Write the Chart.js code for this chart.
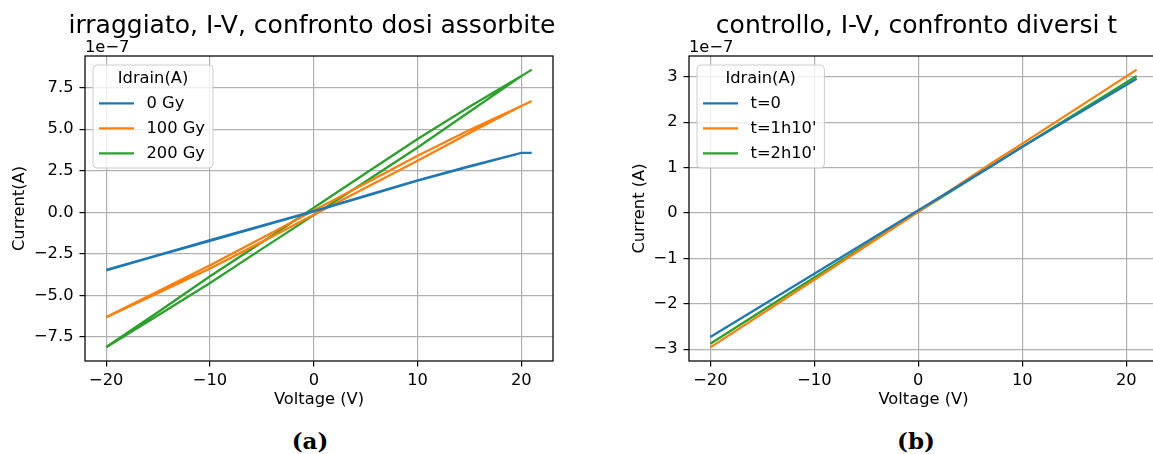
<!DOCTYPE html>
<html>
<head>
<meta charset="utf-8">
<script src="https://cdn.jsdelivr.net/npm/chart.js@4.4.0/dist/chart.umd.min.js"></script>
<style>
  html, body { margin: 0; padding: 0; background: #fff; width: 1153px; height: 454px; overflow: hidden; }
  canvas { position: absolute; top: 0; }
  #chartA { left: 0; }
  #chartB { left: 600px; }
  .cap { position: absolute; top: 427px; line-height: 1; font: bold 23px "DejaVu Serif", serif; transform: translateX(-50%); }
</style>
</head>
<body>
<canvas id="chartA" width="576" height="415"></canvas>
<canvas id="chartB" width="600" height="415"></canvas>
<div class="cap" style="left:310px">(a)</div>
<div class="cap" style="left:916px">(b)</div>

<script>
/* =========================================================
   Data — currents in units of 1e-7 A
   ========================================================= */

// (a) irradiated device, sweep -20 -> 21 -> -20 V
const sweepA = [-20, -15, -10, -5, 0, 5, 10, 15, 20, 21, 20, 15, 10, 5, 0, -5, -10, -15, -20];
const dose0   = [-3.49, -2.60, -1.72, -0.83, 0.05, 0.98, 1.90, 2.75, 3.58, 3.58, 3.58, 2.78, 1.92, 1.00, 0.08, -0.80, -1.68, -2.58, -3.46];
const dose100 = [-6.32, -4.85, -3.38, -1.78, -0.14, 1.48, 3.10, 4.78, 6.40, 6.70, 6.40, 4.95, 3.40, 1.75, 0.11, -1.55, -3.18, -4.75, -6.30];
const dose200 = [-8.12, -6.20, -4.25, -2.20, -0.17, 1.85, 3.90, 6.05, 8.20, 8.59, 8.20, 6.35, 4.41, 2.35, 0.28, -1.80, -3.85, -6.00, -8.10];
const labelsA = ['0 Gy', '100 Gy', '200 Gy'];

// (b) control device, different times
const sweepB = [-20, -10, 0, 7, 10, 21];
const time0    = [-2.73, -1.34, 0.06, 1.03, 1.46, 2.96];
const time1h10 = [-2.96, -1.47, 0.03, 1.09, 1.53, 3.16];
const time2h10 = [-2.88, -1.42, 0.03, 1.03, 1.46, 3.02];
const labelsB = ['t=0', "t=1h10'", "t=2h10'"];

// ticks
const voltTicks = [-20, -10, 0, 10, 20];
const curTicksA = [-7.5, -5, -2.5, 0, 2.5, 5, 7.5];
const curTicksB = [-3, -2, -1, 0, 1, 2, 3];

const COLORS = ['#1f77b4', '#ff7f0e', '#2ca02c'];
const FONT = "'DejaVu Sans', sans-serif";
const FS = 16.3;

const minus = s => String(s).replace('-', '\u2212');
const pts = (xs, ys) => xs.map((x, i) => ({ x, y: ys[i] }));

/* =========================================================
   Plugin: matplotlib-ish title, frame, offset text, legend box
   ========================================================= */
const mplDecor = {
  id: 'mplDecor',
  afterDatasetsDraw(chart, args, opts) {
    const ctx = chart.ctx;
    const ca = chart.chartArea;
    ctx.save();

    // title (may be wider than the axes, so no max width)
    ctx.font = `25px ${FONT}`;
    ctx.fillStyle = '#000';
    ctx.textAlign = 'center';
    ctx.textBaseline = 'alphabetic';
    ctx.fillText(opts.title, (ca.left + ca.right) / 2 - 7, 33);

    // frame (all 4 spines)
    ctx.strokeStyle = '#000';
    ctx.lineWidth = 1.25;
    ctx.strokeRect(ca.left, ca.top, ca.right - ca.left, ca.bottom - ca.top);

    // offset text
    ctx.font = `${FS}px ${FONT}`;
    ctx.textAlign = 'left';
    ctx.fillText('1e\u22127', ca.left, ca.top - 4);

    // legend
    const ds = chart.data.datasets;
    const maxW = Math.max(...ds.map(d => ctx.measureText(d.label).width));
    const bx = ca.left + 8, by = ca.top + 9;
    const bw = 53.5 + maxW + 8, bh = 103;
    ctx.beginPath();
    ctx.roundRect(bx, by, bw, bh, 4);
    ctx.fillStyle = 'rgba(255,255,255,0.8)';
    ctx.fill();
    ctx.strokeStyle = '#cccccc';
    ctx.lineWidth = 1;
    ctx.stroke();

    ctx.fillStyle = '#000';
    ctx.textAlign = 'center';
    ctx.textBaseline = 'middle';
    ctx.fillText(opts.legendTitle, bx + bw / 2, by + 14);

    ds.forEach((d, i) => {
      const y = by + 38.3 + 25 * i;
      ctx.strokeStyle = d.borderColor;
      ctx.lineWidth = 2.3;
      ctx.beginPath();
      ctx.moveTo(bx + 6, y);
      ctx.lineTo(bx + 41, y);
      ctx.stroke();
      ctx.fillStyle = '#000';
      ctx.textAlign = 'left';
      ctx.fillText(d.label, bx + 53.5, y);
    });
    ctx.restore();
  }
};

function makeChart(id, cfg) {
  const datasets = cfg.series.map((ys, i) => ({
    label: cfg.labels[i],
    data: pts(cfg.xs, ys),
    borderColor: COLORS[i],
    backgroundColor: COLORS[i],
    borderWidth: 2.3,
    pointRadius: 0,
    tension: 0,
    fill: false,
  }));

  const gridOpts = {
    color: '#b0b0b0',
    lineWidth: 1.2,
    tickColor: '#000',
    tickLength: 5.5,
    tickWidth: 1.2,
  };

  return new Chart(document.getElementById(id), {
    type: 'line',
    data: { datasets },
    plugins: [mplDecor],
    options: {
      responsive: false,
      animation: false,
      events: [],
      layout: { padding: { left: 0, top: 56, right: cfg.padRight, bottom: 0 } },
      plugins: {
        legend: { display: false },
        tooltip: { enabled: false },
        title: { display: false },
        mplDecor: { title: cfg.title, legendTitle: 'Idrain(A)' },
      },
      scales: {
        x: {
          type: 'linear',
          min: -22.05,
          max: 23.05,
          afterBuildTicks: s => { s.ticks = voltTicks.map(v => ({ value: v })); },
          afterFit: s => { s.height = 54; },
          grid: gridOpts,
          border: { display: false },
          ticks: {
            color: '#000',
            font: { family: FONT, size: FS },
            padding: 4,
            maxRotation: 0,
            callback: v => minus(v),
          },
          title: {
            display: true,
            text: 'Voltage (V)',
            color: '#000',
            font: { family: FONT, size: FS },
            padding: { top: 0, bottom: 5.2 },
          },
        },
        y: {
          type: 'linear',
          min: cfg.yMin,
          max: cfg.yMax,
          afterBuildTicks: s => { s.ticks = cfg.yTicks.map(v => ({ value: v })); },
          afterFit: s => { s.width = cfg.yWidth; },
          grid: gridOpts,
          border: { display: false },
          ticks: {
            color: '#000',
            font: { family: FONT, size: FS },
            padding: 6,
            callback: cfg.yFmt,
          },
          title: {
            display: true,
            text: cfg.yTitle,
            color: '#000',
            font: { family: FONT, size: FS },
            padding: { top: cfg.yTitlePad, bottom: 0 },
          },
        },
      },
    },
  });
}

makeChart('chartA', {
  title: 'irraggiato, I-V, confronto dosi assorbite',
  xs: sweepA,
  series: [dose0, dose100, dose200],
  labels: labelsA,
  yTicks: curTicksA,
  yMin: -8.95, yMax: 9.41,
  yFmt: v => minus(v.toFixed(1)),
  yTitle: 'Current(A)',
  yWidth: 85, yTitlePad: 10.2,
  padRight: 23,
});

makeChart('chartB', {
  title: 'controllo, I-V, confronto diversi t',
  xs: sweepB,
  series: [time0, time1h10, time2h10],
  labels: labelsB,
  yTicks: curTicksB,
  yMin: -3.26, yMax: 3.46,
  yFmt: v => minus(v),
  yTitle: 'Current (A)',
  yWidth: 89, yTitlePad: 30.2,
  padRight: 42,
});
</script>
</body>
</html>
